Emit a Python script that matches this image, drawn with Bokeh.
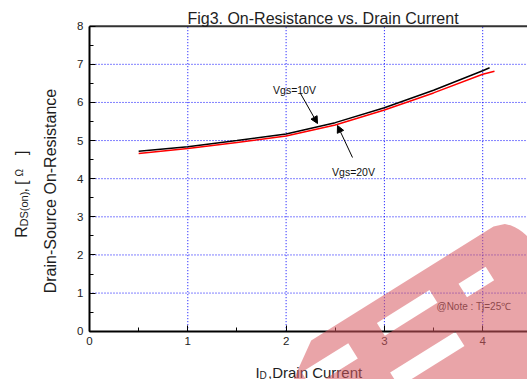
import math
from bokeh.plotting import figure
from bokeh.models import (Range1d, LinearAxis, SingleIntervalTicker,
                          Label, Arrow, NormalHead)
from bokeh.embed import file_html
from bokeh.resources import INLINE

# Drain current (A) vs. on-resistance (ohm)
id_vgs10 = [0.5, 1.0, 1.5, 2.0, 2.5, 3.0, 3.5, 4.0, 4.07]
rds_vgs10 = [4.72, 4.84, 5.00, 5.17, 5.47, 5.86, 6.32, 6.83, 6.91]
id_vgs20 = [0.5, 1.0, 1.5, 2.0, 2.5, 3.0, 3.5, 4.0, 4.12]
rds_vgs20 = [4.66, 4.79, 4.95, 5.12, 5.41, 5.80, 6.25, 6.74, 6.82]

x_grid = [1, 2, 3, 4]
y_grid = [1, 2, 3, 4, 5, 6, 7]

W, H = 527, 379
X0_PX, Y0_PX = 89.0, 330.7      # where the data origin sits on the canvas
SX, SY = 98.3, 38.125           # pixels per unit
X_END, Y_TOP = (W - X0_PX) / SX, 8.0
FONT = "Liberation Sans"
INK = "#1e1e1e"


def dx(px):
    return (px - X0_PX) / SX


def dy(py):
    return (Y0_PX - py) / SY


# the plot frame spans the whole canvas; axes are pinned at the data origin
p = figure(width=W, height=H, output_backend="svg", toolbar_location=None,
           x_range=Range1d(dx(0), dx(W)), y_range=Range1d(dy(H), dy(0)),
           x_axis_location=None, y_axis_location=None,
           min_border=0, min_border_left=0, min_border_right=0,
           min_border_top=0, min_border_bottom=0, outline_line_color=None,
           background_fill_color="white", border_fill_color="white")
p.grid.visible = False

# dotted grid
p.segment(x0=x_grid, y0=[0] * len(x_grid), x1=x_grid, y1=[Y_TOP] * len(x_grid),
          line_color="#0000ff", line_dash="1 2", line_width=1)
p.segment(x0=[0] * len(y_grid), y0=y_grid, x1=[X_END] * len(y_grid), y1=y_grid,
          line_color="#0000ff", line_dash="1 2", line_width=1)

# top border of the plotting box
p.segment(x0=[0], y0=[Y_TOP], x1=[X_END], y1=[Y_TOP], line_color="#333333",
          line_width=2)

xaxis = LinearAxis(fixed_location=0, bounds=(0, X_END),
                   ticker=SingleIntervalTicker(interval=1, num_minor_ticks=2))
yaxis = LinearAxis(fixed_location=0, bounds=(0, Y_TOP),
                   ticker=SingleIntervalTicker(interval=1, num_minor_ticks=2))
for ax in (xaxis, yaxis):
    ax.major_tick_in = 6
    ax.major_tick_out = 0
    ax.minor_tick_in = 4
    ax.minor_tick_out = 0
    ax.axis_line_width = 2
    ax.axis_line_color = "black"
    ax.major_tick_line_color = "black"
    ax.minor_tick_line_color = "black"
    ax.major_label_text_font = FONT
    ax.major_label_text_font_size = "11.5px"
    ax.major_label_text_color = "#222222"
    ax.major_label_standoff = 6
p.add_layout(xaxis, "below")
p.add_layout(yaxis, "left")

p.line(id_vgs10, rds_vgs10, line_color="black", line_width=1.5)
p.line(id_vgs20, rds_vgs20, line_color="#ff0000", line_width=1.5)


def txt(x, y, s, size, **kw):
    kw.setdefault("text_color", INK)
    p.add_layout(Label(x=x, y=y, text=s, text_font=FONT,
                       text_font_size=size, **kw))


# title
txt(dx(322.5), dy(18), "Fig3. On-Resistance vs. Drain Current", "16px",
    text_align="center", text_baseline="alphabetic")

# curve annotations
txt(dx(294), dy(89), "Vgs=10V", "10.5px", text_align="center",
    text_baseline="alphabetic", text_color="#111111")
txt(dx(353), dy(171), "Vgs=20V", "10.5px", text_align="center",
    text_baseline="alphabetic", text_color="#111111")
for xs, ys, xe, ye in [(300, 93, 317, 123), (352, 157, 337, 125)]:
    p.add_layout(Arrow(end=NormalHead(size=7, fill_color="black",
                                      line_color="black", line_width=1),
                       x_start=dx(xs), y_start=dy(ys), x_end=dx(xe), y_end=dy(ye),
                       line_color="black", line_width=1))

txt(dx(436), dy(306), "@Note : Tj=25\u2103", "10px", text_align="left",
    text_baseline="alphabetic", text_color="#333333")

# x-axis label with subscript
txt(dx(255), dy(371.5), "I", "15px", text_baseline="alphabetic")
txt(dx(259), dy(374.5), "D", "10px", text_baseline="alphabetic")
txt(dx(267.5), dy(371.5), ",Drain Current", "15px", text_baseline="alphabetic")

# y-axis label, two rotated lines
rot = math.pi / 2
txt(dx(49.5), dy(190.5), "Drain-Source On-Resistance", "16px", angle=rot,
    text_align="center", text_baseline="alphabetic")
txt(dx(20.7), dy(237.3), "R", "16px", angle=rot, text_align="left",
    text_baseline="alphabetic")
txt(dx(23), dy(226), "DS(on)", "11px", angle=rot, text_align="left",
    text_baseline="alphabetic")
txt(dx(20.7), dy(192), ",", "16px", angle=rot, text_align="left",
    text_baseline="alphabetic")
txt(dx(20.7), dy(184.5), "[", "16px", angle=rot, text_align="left",
    text_baseline="alphabetic")
txt(dx(19), dy(176), "\u03a9", "10px", angle=rot, text_align="left",
    text_baseline="alphabetic")
txt(dx(20.7), dy(154.5), "]", "16px", angle=rot, text_align="left",
    text_baseline="alphabetic")

# translucent watermark logo laid over the chart
th = math.radians(32)
ox, oy = 493.0, 226.0


def ring(pts):
    xs, ys = [], []
    for a, b in pts:
        px = ox + a * math.cos(th) + b * math.sin(th)
        py = oy - a * math.sin(th) + b * math.cos(th)
        xs.append(dx(px))
        ys.append(dy(py))
    return xs, ys


def rect(a0, a1, b0, b1):
    return ring([(a0, b0), (a1, b0), (a1, b1), (a0, b1)])


bowl = [(25 * math.sqrt(max(0.0, 1 - ((b - 40) / 40) ** 2)), b) for b in range(0, 81, 4)]
outer = ring([(-215, 0)] + bowl + [(0, 200), (-515, 200)])
holes = [rect(-150, -88, 20, 35), rect(-165, -88, 69, 86),
         rect(-240, -185, 22, 40), rect(-60, -28, 30, 46)]
rings = [outer] + holes
p.multi_polygons(xs=[[[r[0] for r in rings]]], ys=[[[r[1] for r in rings]]],
                 fill_color="#d75a61", fill_alpha=0.55, line_color=None,
                 level="overlay")

open("out.html", "w").write(file_html(p, INLINE))
